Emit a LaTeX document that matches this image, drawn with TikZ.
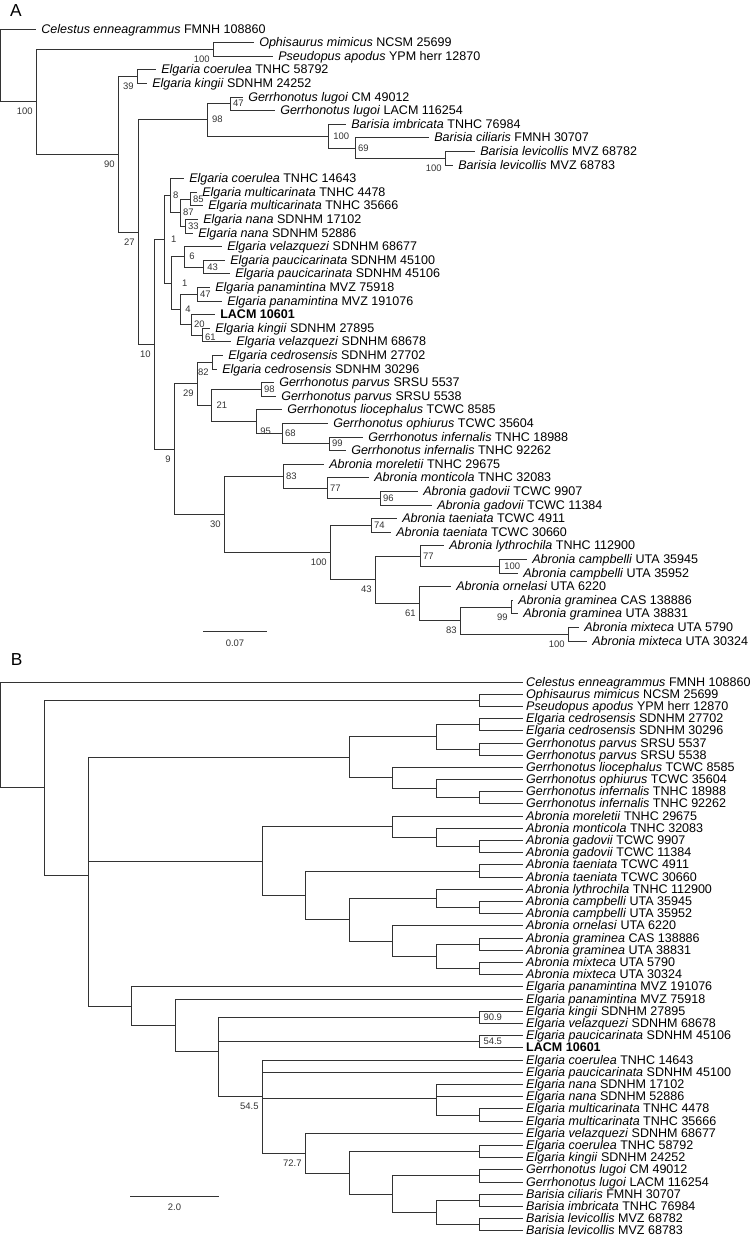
\documentclass[tikz,border=0pt]{standalone}
\usepackage{fontspec}
\setmainfont{Liberation Sans}
\newcommand{\leaffont}{\fontsize{9.4pt}{11pt}\selectfont}
\newcommand{\supfont}{\fontsize{7.1pt}{8pt}\selectfont}
\newcommand{\taxon}[2]{\textit{#1} #2}
\tikzstyle{lfA}=[anchor=west,inner xsep=3.75pt,inner ysep=0pt,text height=7.2pt,text depth=0.5pt,font=\leaffont]
\tikzstyle{lfB}=[lfA,inner xsep=2.2pt]
\tikzstyle{br}=[draw=black!80,line width=1.2pt,to path={(\tikztostart) |- (\tikztotarget)}]
\tikzstyle{bar}=[draw=black!80,line width=1.2pt]
\tikzstyle{supL}=[anchor=north east,inner sep=1pt,xshift=-1.7pt,yshift=-3.5pt,font=\supfont,text=black!80]
\tikzstyle{supR}=[anchor=west,inner sep=1pt,xshift=0.8pt,font=\supfont,text=black!80]
\tikzstyle{panel}=[font=\fontsize{13pt}{15pt}\selectfont]
\begin{document}
\begin{tikzpicture}[x=0.75pt,y=-0.75pt]
  \useasboundingbox (0,0) rectangle (752,1236);

  % tree A
  \node[panel] (labA) at (16,11) {A};
  \node[lfA] (a1) at (36,29.5) {\taxon{Celestus enneagrammus}{FMNH 108860}};
  \node[lfA] (a2) at (254,42.5) {\taxon{Ophisaurus mimicus}{NCSM 25699}};
  \node[lfA] (a3) at (273,56.5) {\taxon{Pseudopus apodus}{YPM herr 12870}};
  \node[lfA] (a4) at (156,69.5) {\taxon{Elgaria coerulea}{TNHC 58792}};
  \node[lfA] (a5) at (147,83.5) {\taxon{Elgaria kingii}{SDNHM 24252}};
  \node[lfA] (a6) at (243,97.5) {\taxon{Gerrhonotus lugoi}{CM 49012}};
  \node[lfA] (a7) at (275,110.5) {\taxon{Gerrhonotus lugoi}{LACM 116254}};
  \node[lfA] (a8) at (346,124.5) {\taxon{Barisia imbricata}{TNHC 76984}};
  \node[lfA] (a9) at (429,137.5) {\taxon{Barisia ciliaris}{FMNH 30707}};
  \node[lfA] (a10) at (475,151.5) {\taxon{Barisia levicollis}{MVZ 68782}};
  \node[lfA] (a11) at (453,165.5) {\taxon{Barisia levicollis}{MVZ 68783}};
  \node[lfA] (a12) at (184,178.5) {\taxon{Elgaria coerulea}{TNHC 14643}};
  \node[lfA] (a13) at (197,192.5) {\taxon{Elgaria multicarinata}{TNHC 4478}};
  \node[lfA] (a14) at (203,205.5) {\taxon{Elgaria multicarinata}{TNHC 35666}};
  \node[lfA] (a15) at (198,219.5) {\taxon{Elgaria nana}{SDNHM 17102}};
  \node[lfA] (a16) at (193,233.5) {\taxon{Elgaria nana}{SDNHM 52886}};
  \node[lfA] (a17) at (222,246.5) {\taxon{Elgaria velazquezi}{SDNHM 68677}};
  \node[lfA] (a18) at (225,260.5) {\taxon{Elgaria paucicarinata}{SDNHM 45100}};
  \node[lfA] (a19) at (230,273.5) {\taxon{Elgaria paucicarinata}{SDNHM 45106}};
  \node[lfA] (a20) at (210,287.5) {\taxon{Elgaria panamintina}{MVZ 75918}};
  \node[lfA] (a21) at (222,301.5) {\taxon{Elgaria panamintina}{MVZ 191076}};
  \node[lfA] (a22) at (215,314.5) {\textbf{LACM 10601}};
  \node[lfA] (a23) at (210,328.5) {\taxon{Elgaria kingii}{SDNHM 27895}};
  \node[lfA] (a24) at (231,341.5) {\taxon{Elgaria velazquezi}{SDNHM 68678}};
  \node[lfA] (a25) at (223,355.5) {\taxon{Elgaria cedrosensis}{SDNHM 27702}};
  \node[lfA] (a26) at (217,369.5) {\taxon{Elgaria cedrosensis}{SDNHM 30296}};
  \node[lfA] (a27) at (274,382.5) {\taxon{Gerrhonotus parvus}{SRSU 5537}};
  \node[lfA] (a28) at (276,396.5) {\taxon{Gerrhonotus parvus}{SRSU 5538}};
  \node[lfA] (a29) at (282,409.5) {\taxon{Gerrhonotus liocephalus}{TCWC 8585}};
  \node[lfA] (a30) at (328,423.5) {\taxon{Gerrhonotus ophiurus}{TCWC 35604}};
  \node[lfA] (a31) at (363,437.5) {\taxon{Gerrhonotus infernalis}{TNHC 18988}};
  \node[lfA] (a32) at (346,450.5) {\taxon{Gerrhonotus infernalis}{TNHC 92262}};
  \node[lfA] (a33) at (324,464.5) {\taxon{Abronia moreletii}{TNHC 29675}};
  \node[lfA] (a34) at (369,477.5) {\taxon{Abronia monticola}{TNHC 32083}};
  \node[lfA] (a35) at (418,491.5) {\taxon{Abronia gadovii}{TCWC 9907}};
  \node[lfA] (a36) at (432,505.5) {\taxon{Abronia gadovii}{TCWC 11384}};
  \node[lfA] (a37) at (397,518.5) {\taxon{Abronia taeniata}{TCWC 4911}};
  \node[lfA] (a38) at (391,532.5) {\taxon{Abronia taeniata}{TCWC 30660}};
  \node[lfA] (a39) at (444,545.5) {\taxon{Abronia lythrochila}{TNHC 112900}};
  \node[lfA] (a40) at (527,559.5) {\taxon{Abronia campbelli}{UTA 35945}};
  \node[lfA] (a41) at (518,573.5) {\taxon{Abronia campbelli}{UTA 35952}};
  \node[lfA] (a42) at (451,586.5) {\taxon{Abronia ornelasi}{UTA 6220}};
  \node[lfA] (a43) at (513,600.5) {\taxon{Abronia graminea}{CAS 138886}};
  \node[lfA] (a44) at (518,613.5) {\taxon{Abronia graminea}{UTA 38831}};
  \node[lfA] (a45) at (579,627.5) {\taxon{Abronia mixteca}{UTA 5790}};
  \node[lfA] (a46) at (587,641.5) {\taxon{Abronia mixteca}{UTA 30324}};

  % clades of A, tips first
  \coordinate (ALev) at (445.5,158.5) edge[br] (a10) edge[br] (a11);
  \coordinate (ABar2) at (355.5,148.5) edge[br] (a9) edge[br] (ALev);
  \coordinate (ABar) at (328.5,136.5) edge[br] (a8) edge[br] (ABar2);
  \coordinate (ALug) at (230.5,103.5) edge[br] (a6) edge[br] (a7);
  \coordinate (AGB) at (207.5,119.5) edge[br] (ALug) edge[br] (ABar);
  \coordinate (AOP) at (213.5,49.5) edge[br] (a2) edge[br] (a3);
  \coordinate (ACK) at (137.5,76.5) edge[br] (a4) edge[br] (a5);
  \coordinate (AM) at (190.5,199.5) edge[br] (a13) edge[br] (a14);
  \coordinate (ANana) at (185.5,226.5) edge[br] (a15) edge[br] (a16);
  \coordinate (AE3) at (180.5,212.5) edge[br] (AM) edge[br] (ANana);
  \coordinate (AE2) at (170.5,195.5) edge[br] (a12) edge[br] (AE3);
  \coordinate (AP) at (203.5,267.5) edge[br] (a18) edge[br] (a19);
  \coordinate (AE5) at (184.5,256.5) edge[br] (a17) edge[br] (AP);
  \coordinate (APan) at (197.5,294.5) edge[br] (a20) edge[br] (a21);
  \coordinate (AKV) at (202.5,335.5) edge[br] (a23) edge[br] (a24);
  \coordinate (AE7) at (191.5,324.5) edge[br] (a22) edge[br] (AKV);
  \coordinate (AE6) at (180.5,309.5) edge[br] (APan) edge[br] (AE7);
  \coordinate (AE4) at (171.5,283.5) edge[br] (AE5) edge[br] (AE6);
  \coordinate (AE1) at (164.5,239.5) edge[br] (AE2) edge[br] (AE4);
  \coordinate (ACed) at (212.5,362.5) edge[br] (a25) edge[br] (a26);
  \coordinate (AParv) at (261.5,389.5) edge[br] (a27) edge[br] (a28);
  \coordinate (AInf) at (329.5,443.5) edge[br] (a31) edge[br] (a32);
  \coordinate (AG4) at (282.5,433.5) edge[br] (a30) edge[br] (AInf);
  \coordinate (AG3) at (256.5,421.5) edge[br] (a29) edge[br] (AG4);
  \coordinate (AG2) at (211.5,405.5) edge[br] (AParv) edge[br] (AG3);
  \coordinate (AG) at (197.5,383.5) edge[br] (ACed) edge[br] (AG2);
  \coordinate (AGad) at (380.5,498.5) edge[br] (a35) edge[br] (a36);
  \coordinate (AAb1b) at (327.5,488.5) edge[br] (a34) edge[br] (AGad);
  \coordinate (AAb1) at (283.5,476.5) edge[br] (a33) edge[br] (AAb1b);
  \coordinate (ATae) at (371.5,525.5) edge[br] (a37) edge[br] (a38);
  \coordinate (ACamp) at (499.5,566.5) edge[br] (a40) edge[br] (a41);
  \coordinate (AAb4) at (420.5,556.5) edge[br] (a39) edge[br] (ACamp);
  \coordinate (AGram) at (511.5,607.5) edge[br] (a43) edge[br] (a44);
  \coordinate (AMix) at (568.5,634.5) edge[br] (a45) edge[br] (a46);
  \coordinate (AAb6) at (460.5,620.5) edge[br] (AGram) edge[br] (AMix);
  \coordinate (AAb5) at (419.5,603.5) edge[br] (a42) edge[br] (AAb6);
  \coordinate (AAb3) at (375.5,579.5) edge[br] (AAb4) edge[br] (AAb5);
  \coordinate (AAb2) at (330.5,552.5) edge[br] (ATae) edge[br] (AAb3);
  \coordinate (AAb) at (224.5,514.5) edge[br] (AAb1) edge[br] (AAb2);
  \coordinate (AN5) at (174.5,449.5) edge[br] (AG) edge[br] (AAb);
  \coordinate (AN4) at (154.5,344.5) edge[br] (AE1) edge[br] (AN5);
  \coordinate (AN3) at (138.5,232.5) edge[br] (AGB) edge[br] (AN4);
  \coordinate (AN2) at (118.5,154.5) edge[br] (ACK) edge[br] (AN3);
  \coordinate (AN1) at (36.5,101.5) edge[br] (AOP) edge[br] (AN2);
  \coordinate (Aroot) at (0.5,65.5) edge[br] (a1) edge[br] (AN1);

  % support values of A
  \node[supL] (sALev) at (ALev) {100};
  \node[supR] (sABar2) at (ABar2) {69};
  \node[supR,xshift=1.7pt] (sABar) at (ABar) {100};
  \node[supR] (sALug) at (ALug) {47};
  \node[supR,xshift=1.4pt] (sAGB) at (AGB) {98};
  \node[supL] (sAOP) at (AOP) {100};
  \node[supL] (sACK) at (ACK) {39};
  \node[supR] (sAM) at (AM) {85};
  \node[supR] (sANana) at (ANana) {33};
  \node[supR] (sAE3) at (AE3) {87};
  \node[supR] (sAE2) at (AE2) {8};
  \node[supR,xshift=0.9pt] (sAP) at (AP) {43};
  \node[supR,xshift=1.7pt] (sAE5) at (AE5) {6};
  \node[supR] (sAPan) at (APan) {47};
  \node[supR,yshift=-1.5pt] (sAKV) at (AKV) {61};
  \node[supR] (sAE7) at (AE7) {20};
  \node[supR,xshift=1.7pt] (sAE6) at (AE6) {4};
  \node[supR,xshift=6pt] (sAE4) at (AE4) {1};
  \node[supR,xshift=3pt] (sAE1) at (AE1) {1};
  \node[supL] (sACed) at (ACed) {82};
  \node[supR] (sAParv) at (AParv) {98};
  \node[supR] (sAInf) at (AInf) {99};
  \node[supR] (sAG4) at (AG4) {68};
  \node[supR,xshift=0.9pt,yshift=-7pt] (sAG3) at (AG3) {95};
  \node[supR,xshift=1.9pt] (sAG2) at (AG2) {21};
  \node[supL] (sAG) at (AG) {29};
  \node[supR] (sAGad) at (AGad) {96};
  \node[supR] (sAAb1b) at (AAb1b) {77};
  \node[supR] (sAAb1) at (AAb1) {83};
  \node[supR] (sATae) at (ATae) {74};
  \node[supR,xshift=1.7pt] (sACamp) at (ACamp) {100};
  \node[supR] (sAAb4) at (AAb4) {77};
  \node[supL] (sAGram) at (AGram) {99};
  \node[supL] (sAMix) at (AMix) {100};
  \node[supL] (sAAb6) at (AAb6) {83};
  \node[supL] (sAAb5) at (AAb5) {61};
  \node[supL] (sAAb3) at (AAb3) {43};
  \node[supL] (sAAb2) at (AAb2) {100};
  \node[supL] (sAAb) at (AAb) {30};
  \node[supL] (sAN5) at (AN5) {9};
  \node[supL] (sAN4) at (AN4) {10};
  \node[supL] (sAN3) at (AN3) {27};
  \node[supL] (sAN2) at (AN2) {90};
  \node[supL] (sAN1) at (AN1) {100};

  % scale of A
  \coordinate (sA1) at (203,631.5);
  \coordinate (sA2) at (267,631.5);
  \draw[bar] (sA1) -- (sA2);
  \node[font=\supfont,text=black!80] (sAl) at (235,643) {0.07};

  % tree B
  \node[panel] (labB) at (16.7,660) {B};
  \node[lfB] (b1) at (523,682.5) {\taxon{Celestus enneagrammus}{FMNH 108860}};
  \node[lfB] (b2) at (523,694.5) {\taxon{Ophisaurus mimicus}{NCSM 25699}};
  \node[lfB] (b3) at (523,706.5) {\taxon{Pseudopus apodus}{YPM herr 12870}};
  \node[lfB] (b4) at (523,718.5) {\taxon{Elgaria cedrosensis}{SDNHM 27702}};
  \node[lfB] (b5) at (523,730.5) {\taxon{Elgaria cedrosensis}{SDNHM 30296}};
  \node[lfB] (b6) at (523,743.5) {\taxon{Gerrhonotus parvus}{SRSU 5537}};
  \node[lfB] (b7) at (523,755.5) {\taxon{Gerrhonotus parvus}{SRSU 5538}};
  \node[lfB] (b8) at (523,767.5) {\taxon{Gerrhonotus liocephalus}{TCWC 8585}};
  \node[lfB] (b9) at (523,779.5) {\taxon{Gerrhonotus ophiurus}{TCWC 35604}};
  \node[lfB] (b10) at (523,791.5) {\taxon{Gerrhonotus infernalis}{TNHC 18988}};
  \node[lfB] (b11) at (523,803.5) {\taxon{Gerrhonotus infernalis}{TNHC 92262}};
  \node[lfB] (b12) at (523,816.5) {\taxon{Abronia moreletii}{TNHC 29675}};
  \node[lfB] (b13) at (523,828.5) {\taxon{Abronia monticola}{TNHC 32083}};
  \node[lfB] (b14) at (523,840.5) {\taxon{Abronia gadovii}{TCWC 9907}};
  \node[lfB] (b15) at (523,852.5) {\taxon{Abronia gadovii}{TCWC 11384}};
  \node[lfB] (b16) at (523,864.5) {\taxon{Abronia taeniata}{TCWC 4911}};
  \node[lfB] (b17) at (523,877.5) {\taxon{Abronia taeniata}{TCWC 30660}};
  \node[lfB] (b18) at (523,889.5) {\taxon{Abronia lythrochila}{TNHC 112900}};
  \node[lfB] (b19) at (523,901.5) {\taxon{Abronia campbelli}{UTA 35945}};
  \node[lfB] (b20) at (523,913.5) {\taxon{Abronia campbelli}{UTA 35952}};
  \node[lfB] (b21) at (523,925.5) {\taxon{Abronia ornelasi}{UTA 6220}};
  \node[lfB] (b22) at (523,938.5) {\taxon{Abronia graminea}{CAS 138886}};
  \node[lfB] (b23) at (523,950.5) {\taxon{Abronia graminea}{UTA 38831}};
  \node[lfB] (b24) at (523,962.5) {\taxon{Abronia mixteca}{UTA 5790}};
  \node[lfB] (b25) at (523,974.5) {\taxon{Abronia mixteca}{UTA 30324}};
  \node[lfB] (b26) at (523,986.5) {\taxon{Elgaria panamintina}{MVZ 191076}};
  \node[lfB] (b27) at (523,999.5) {\taxon{Elgaria panamintina}{MVZ 75918}};
  \node[lfB] (b28) at (523,1011.5) {\taxon{Elgaria kingii}{SDNHM 27895}};
  \node[lfB] (b29) at (523,1023.5) {\taxon{Elgaria velazquezi}{SDNHM 68678}};
  \node[lfB] (b30) at (523,1035.5) {\taxon{Elgaria paucicarinata}{SDNHM 45106}};
  \node[lfB] (b31) at (523,1047.5) {\textbf{LACM 10601}};
  \node[lfB] (b32) at (523,1060.5) {\taxon{Elgaria coerulea}{TNHC 14643}};
  \node[lfB] (b33) at (523,1072.5) {\taxon{Elgaria paucicarinata}{SDNHM 45100}};
  \node[lfB] (b34) at (523,1084.5) {\taxon{Elgaria nana}{SDNHM 17102}};
  \node[lfB] (b35) at (523,1096.5) {\taxon{Elgaria nana}{SDNHM 52886}};
  \node[lfB] (b36) at (523,1108.5) {\taxon{Elgaria multicarinata}{TNHC 4478}};
  \node[lfB] (b37) at (523,1121.5) {\taxon{Elgaria multicarinata}{TNHC 35666}};
  \node[lfB] (b38) at (523,1133.5) {\taxon{Elgaria velazquezi}{SDNHM 68677}};
  \node[lfB] (b39) at (523,1145.5) {\taxon{Elgaria coerulea}{TNHC 58792}};
  \node[lfB] (b40) at (523,1157.5) {\taxon{Elgaria kingii}{SDNHM 24252}};
  \node[lfB] (b41) at (523,1169.5) {\taxon{Gerrhonotus lugoi}{CM 49012}};
  \node[lfB] (b42) at (523,1182.5) {\taxon{Gerrhonotus lugoi}{LACM 116254}};
  \node[lfB] (b43) at (523,1194.5) {\taxon{Barisia ciliaris}{FMNH 30707}};
  \node[lfB] (b44) at (523,1206.5) {\taxon{Barisia imbricata}{TNHC 76984}};
  \node[lfB] (b45) at (523,1218.5) {\taxon{Barisia levicollis}{MVZ 68782}};
  \node[lfB] (b46) at (523,1230.5) {\taxon{Barisia levicollis}{MVZ 68783}};

  % clades of B, tips first
  \coordinate (BOP) at (479.5,700.5) edge[br] (b2) edge[br] (b3);
  \coordinate (BCed) at (479.5,724.5) edge[br] (b4) edge[br] (b5);
  \coordinate (BParv) at (479.5,749.5) edge[br] (b6) edge[br] (b7);
  \coordinate (BInf) at (479.5,797.5) edge[br] (b10) edge[br] (b11);
  \coordinate (BG1) at (436.5,736.5) edge[br] (BCed) edge[br] (BParv);
  \coordinate (BG3) at (436.5,788.5) edge[br] (b9) edge[br] (BInf);
  \coordinate (BG2) at (392.5,777.5) edge[br] (b8) edge[br] (BG3);
  \coordinate (BG) at (349.5,757.5) edge[br] (BG1) edge[br] (BG2);
  \coordinate (BGad) at (479.5,846.5) edge[br] (b14) edge[br] (b15);
  \coordinate (BAb1b) at (436.5,837.5) edge[br] (b13) edge[br] (BGad);
  \coordinate (BAb1) at (392.5,826.5) edge[br] (b12) edge[br] (BAb1b);
  \coordinate (BTae) at (479.5,871.5) edge[br] (b16) edge[br] (b17);
  \coordinate (BCamp) at (479.5,907.5) edge[br] (b19) edge[br] (b20);
  \coordinate (BAb4) at (436.5,898.5) edge[br] (b18) edge[br] (BCamp);
  \coordinate (BGram) at (479.5,944.5) edge[br] (b22) edge[br] (b23);
  \coordinate (BMix) at (479.5,968.5) edge[br] (b24) edge[br] (b25);
  \coordinate (BAb6) at (436.5,956.5) edge[br] (BGram) edge[br] (BMix);
  \coordinate (BAb5) at (392.5,941.5) edge[br] (b21) edge[br] (BAb6);
  \coordinate (BAb3) at (349.5,919.5) edge[br] (BAb4) edge[br] (BAb5);
  \coordinate (BAb2) at (305.5,895.5) edge[br] (BTae) edge[br] (BAb3);
  \coordinate (BAb) at (262.5,861.5) edge[br] (BAb1) edge[br] (BAb2);
  \coordinate (BKV) at (479.5,1017.5) edge[br] (b28) edge[br] (b29);
  \coordinate (BPL) at (479.5,1041.5) edge[br] (b30) edge[br] (b31);
  \coordinate (BMult) at (479.5,1115.5) edge[br] (b36) edge[br] (b37);
  \coordinate (BE5) at (436.5,1098.5) edge[br] (b34) edge[br] (b35) edge[br] (BMult);
  \coordinate (BCK) at (479.5,1151.5) edge[br] (b39) edge[br] (b40);
  \coordinate (BLug) at (479.5,1175.5) edge[br] (b41) edge[br] (b42);
  \coordinate (BBar) at (479.5,1200.5) edge[br] (b43) edge[br] (b44);
  \coordinate (BLev) at (479.5,1224.5) edge[br] (b45) edge[br] (b46);
  \coordinate (BE9) at (436.5,1212.5) edge[br] (BBar) edge[br] (BLev);
  \coordinate (BE8) at (392.5,1194.5) edge[br] (BLug) edge[br] (BE9);
  \coordinate (BE7) at (349.5,1173.5) edge[br] (BCK) edge[br] (BE8);
  \coordinate (BE6) at (305.5,1153.5) edge[br] (b38) edge[br] (BE7);
  \coordinate (BE4) at (262.5,1096.5) edge[br] (b32) edge[br] (b33) edge[br] (BE5) edge[br] (BE6);
  \coordinate (BE3) at (218.5,1051.5) edge[br] (BKV) edge[br] (BPL) edge[br] (BE4);
  \coordinate (BE2) at (175.5,1025.5) edge[br] (b27) edge[br] (BE3);
  \coordinate (BE1) at (131.5,1006.5) edge[br] (b26) edge[br] (BE2);
  \coordinate (BN2) at (88.5,875.5) edge[br] (BG) edge[br] (BAb) edge[br] (BE1);
  \coordinate (BN1) at (44.5,787.5) edge[br] (BOP) edge[br] (BN2);
  \coordinate (Broot) at (0.5,734.5) edge[br] (b1) edge[br] (BN1);

  % support values of B
  \node[supR,xshift=1pt] (sBKV) at (BKV) {90.9};
  \node[supR,xshift=1pt] (sBPL) at (BPL) {54.5};
  \node[supL] (sBE4) at (BE4) {54.5};
  \node[supL] (sBE6) at (BE6) {72.7};

  % scale of B
  \coordinate (sB1) at (130,1196.5);
  \coordinate (sB2) at (219,1196.5);
  \draw[bar] (sB1) -- (sB2);
  \node[font=\supfont,text=black!80] (sBl) at (174.5,1207) {2.0};
\end{tikzpicture}
\end{document}
